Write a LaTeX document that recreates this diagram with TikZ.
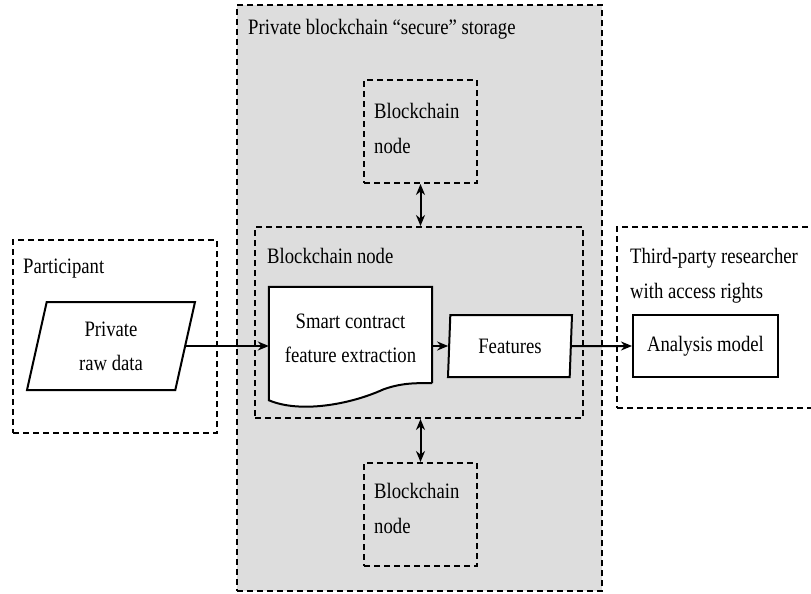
\documentclass[tikz,border=0pt]{standalone}
\usepackage{fontspec}
\setmainfont{Liberation Serif}[FakeStretch=0.85]
\usepackage{tikz}
\usetikzlibrary{arrows.meta,shapes.geometric,calc}

\definecolor{storegray}{RGB}{221,221,221}
\tikzset{
  dashbox/.style={draw, line width=2pt, dash pattern=on 6pt off 4pt, inner sep=0pt},
  flowbox/.style={draw, line width=2pt, fill=white, inner sep=0pt, align=center},
  databox/.style={flowbox, trapezium, trapezium stretches body},
  boxlabel/.style={anchor=base west, inner sep=0pt, align=left},
  flowarrow/.style={line width=2pt, -{Stealth[length=11pt,width=9pt]}},
  dblarrow/.style={line width=2pt, {Stealth[length=11pt,width=9pt]}-{Stealth[length=11pt,width=9pt]}}
}

\begin{document}
\begin{tikzpicture}[x=1pt, y=-1pt, font=\fontsize{22}{34}\selectfont]
\useasboundingbox (0,0) rectangle (811,594);
\clip (0,0) rectangle (811,594);

% containers
\node[dashbox, fill=storegray, minimum width=365pt, minimum height=586pt] (storage) at (419.5,298) {};
\node[dashbox, minimum width=113pt, minimum height=103pt] (topnode) at (420.5,131.5) {};
\node[dashbox, minimum width=328pt, minimum height=191pt] (bcnode) at (419,322.5) {};
\node[dashbox, minimum width=113pt, minimum height=103pt] (botnode) at (420.5,514.5) {};
\node[dashbox, minimum width=204pt, minimum height=193pt] (participant) at (115,336.5) {};
\node[dashbox, minimum width=215pt, minimum height=181pt] (thirdparty) at (724.5,317.5) {};

\node[boxlabel] (storagelbl) at (248,35) {Private blockchain ``secure'' storage};
\node[boxlabel] (topnodelbl) at (374,118) {Blockchain};
\node[boxlabel] (topnodelbl2) at (374,153) {node};
\node[boxlabel] (bcnodelbl) at (267,263) {Blockchain node};
\node[boxlabel] (botnodelbl) at (374,498) {Blockchain};
\node[boxlabel] (botnodelbl2) at (374,533) {node};
\node[boxlabel] (participantlbl) at (23,273) {Participant};
\node[boxlabel] (thirdpartylbl) at (630,263) {Third-party researcher};
\node[boxlabel] (thirdpartylbl2) at (630,298) {with access rights};

% flow
\node[databox, trapezium left angle=68, trapezium right angle=112,
      minimum width=168pt, minimum height=88pt] (rawdata) at (111,346) {Private\\raw data};
\node[inner sep=0pt, minimum width=163pt, minimum height=96pt] (contract) at (350.5,335) {};
\draw[line width=2pt, fill=white] (contract.south east) -- (contract.north east) -- (contract.north west)
  -- ($(contract.south west)+(0,17)$)
  .. controls ($(contract.south west)+(30,30)$) and ($(contract.south west)+(80,22)$) .. ($(contract.south west)+(115,6)$)
  .. controls ($(contract.south west)+(135,-1)$) and ($(contract.south west)+(150,0)$) .. (contract.south east);
\node[align=center, inner sep=0pt] (contracttxt) at ($(contract)+(0,3)$) {Smart contract\\feature extraction};
\node[databox, trapezium left angle=81, trapezium right angle=99,
      minimum width=124pt, minimum height=62pt] (features) at (510,346) {Features};
\node[flowbox, minimum width=145pt, minimum height=62pt] (analysis) at (705.5,346) {Analysis model};

\draw[flowarrow] (rawdata.east) -- (rawdata.east -| contract.west);
\draw[flowarrow] (contract.east |- features.west) -- (features.west);
\draw[flowarrow] (features.east) -- (analysis.west);
\draw[dblarrow] (topnode.south) -- (topnode.south |- bcnode.north);
\draw[dblarrow] (botnode.north |- bcnode.south) -- (botnode.north);
\end{tikzpicture}
\end{document}
